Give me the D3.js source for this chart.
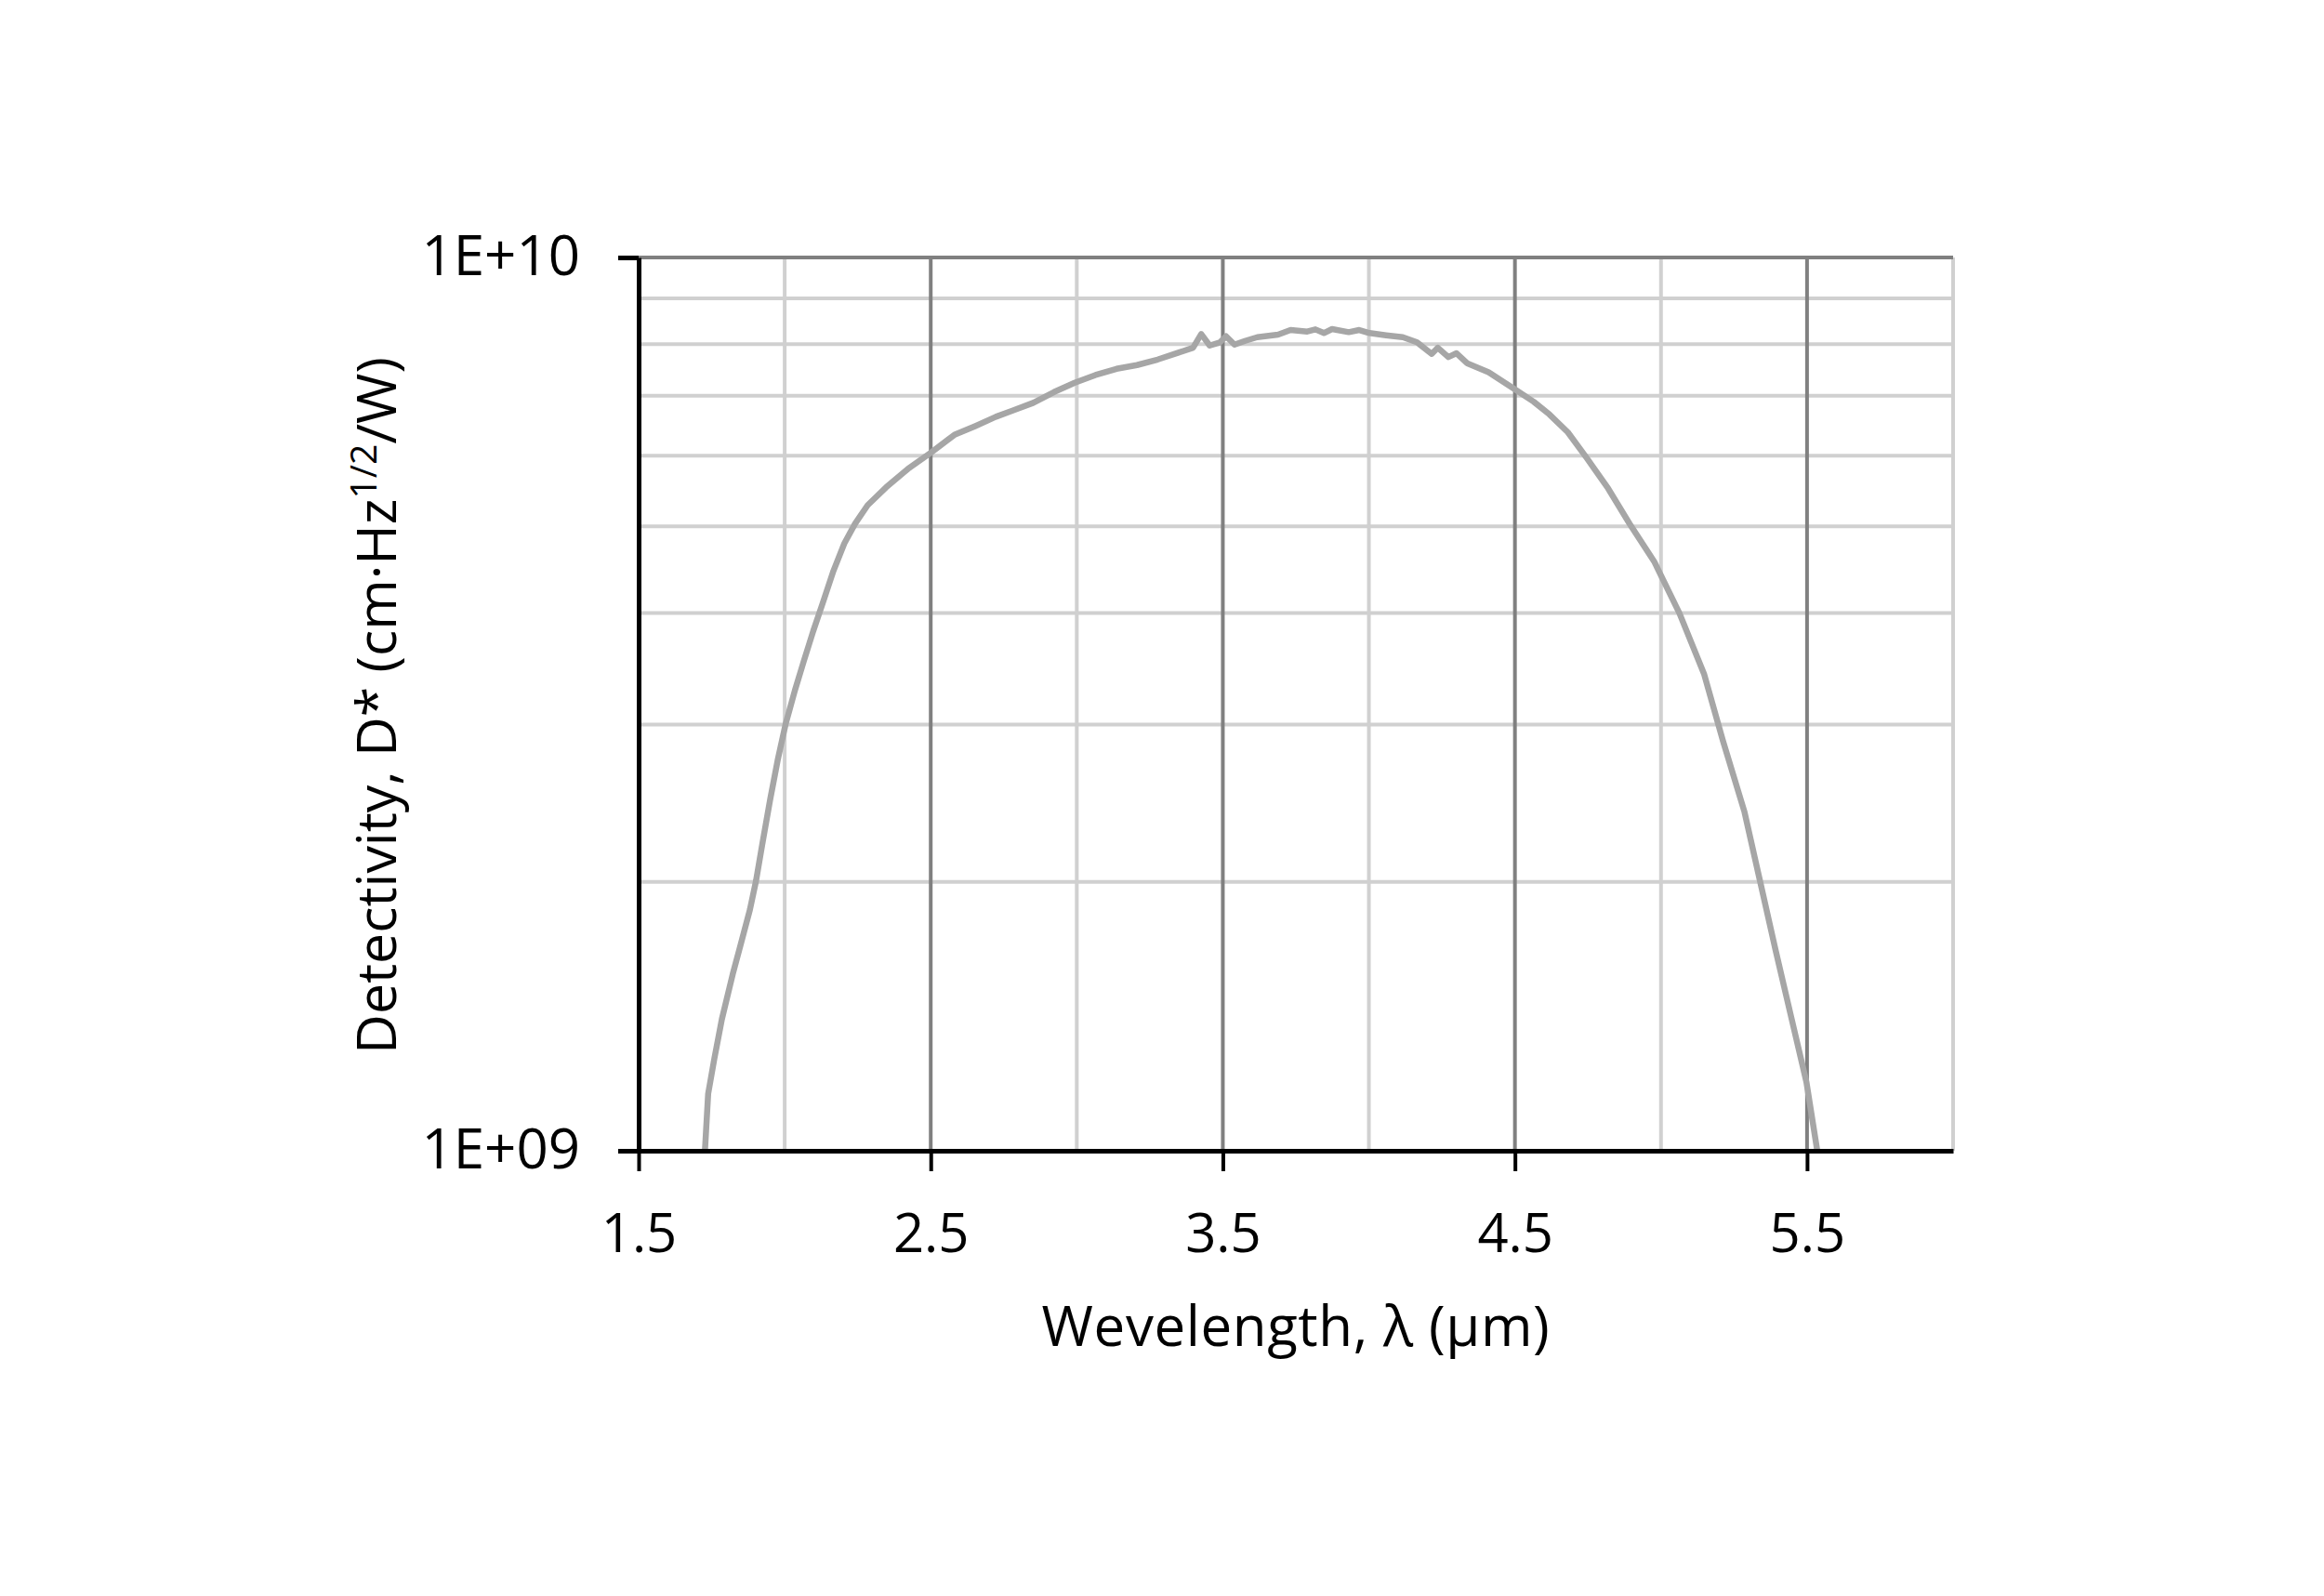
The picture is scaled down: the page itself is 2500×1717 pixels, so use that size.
<!DOCTYPE html>
<html>
<head>
<meta charset="utf-8">
<script src="https://cdn.jsdelivr.net/npm/d3@7"></script>
<style>
  html, body { margin: 0; padding: 0; background: #ffffff; }
  svg { display: block; }
  text { font-family: "Open Sans", "Noto Sans", sans-serif; fill: #000; }
</style>
</head>
<body>
<svg id="chart" width="2500" height="1717"></svg>
<script>
// ---- data ----
const wavelength = [
  1.727, 1.738, 1.759, 1.785, 1.822, 1.854, 1.881, 1.902, 1.923, 1.950,
  1.976, 2.003, 2.035, 2.066, 2.098, 2.130, 2.167, 2.204, 2.241, 2.284,
  2.347, 2.422, 2.501, 2.581, 2.652, 2.723, 2.780, 2.851, 2.922, 2.993,
  3.064, 3.136, 3.206, 3.277, 3.348, 3.398, 3.426, 3.455, 3.490, 3.511,
  3.540, 3.576, 3.618, 3.689, 3.732, 3.789, 3.817, 3.846, 3.874, 3.931,
  3.967, 4.002, 4.059, 4.116, 4.165, 4.215, 4.236, 4.272, 4.300, 4.336,
  4.410, 4.503, 4.564, 4.618, 4.681, 4.745, 4.819, 4.893, 4.978, 5.063,
  5.148, 5.212, 5.286, 5.339, 5.392, 5.445, 5.498, 5.535
];
const detectivity = [
  1.000e9, 1.158e9, 1.267e9, 1.404e9, 1.576e9, 1.724e9, 1.862e9, 2.006e9, 2.201e9, 2.470e9,
  2.737e9, 3.002e9, 3.276e9, 3.538e9, 3.820e9, 4.101e9, 4.459e9, 4.783e9, 5.035e9, 5.281e9,
  5.529e9, 5.799e9, 6.049e9, 6.330e9, 6.475e9, 6.632e9, 6.738e9, 6.875e9, 7.068e9, 7.240e9,
  7.386e9, 7.505e9, 7.578e9, 7.687e9, 7.825e9, 7.925e9, 8.209e9, 7.969e9, 8.035e9, 8.162e9,
  7.989e9, 8.065e9, 8.143e9, 8.196e9, 8.295e9, 8.262e9, 8.308e9, 8.230e9, 8.316e9, 8.249e9,
  8.295e9, 8.230e9, 8.183e9, 8.143e9, 8.035e9, 7.800e9, 7.925e9, 7.737e9, 7.812e9, 7.615e9,
  7.440e9, 7.107e9, 6.896e9, 6.673e9, 6.373e9, 5.969e9, 5.514e9, 5.030e9, 4.559e9, 3.998e9,
  3.414e9, 2.877e9, 2.394e9, 2.005e9, 1.679e9, 1.415e9, 1.193e9, 1.000e9
];
const xTickValues = [1.5, 2.5, 3.5, 4.5, 5.5];
const xTickLabels = ["1.5", "2.5", "3.5", "4.5", "5.5"];
const xMinorGrid = [2.0, 3.0, 4.0, 5.0, 6.0];
const yTickValues = [1e9, 1e10];
const yTickLabels = ["1E+09", "1E+10"];
const yMinorGrid = [2e9, 3e9, 4e9, 5e9, 6e9, 7e9, 8e9, 9e9];

// ---- layout ----
const svg = d3.select("#chart");
const x = d3.scaleLinear().domain([1.5, 6.0]).range([687, 2101]);
const y = d3.scaleLog().domain([1e9, 1e10]).range([1238, 277]);

const lightGrid = "#d0d0d0";
const darkGrid = "#808080";

// light horizontal gridlines
svg.append("g").selectAll("line").data(yMinorGrid).join("line")
  .attr("x1", x(1.5)).attr("x2", x(6.0))
  .attr("y1", d => y(d)).attr("y2", d => y(d))
  .attr("stroke", lightGrid).attr("stroke-width", 4);

// light vertical gridlines
svg.append("g").selectAll("line").data(xMinorGrid).join("line")
  .attr("x1", d => x(d)).attr("x2", d => x(d))
  .attr("y1", y(1e10)).attr("y2", y(1e9))
  .attr("stroke", lightGrid).attr("stroke-width", 4);

// dark vertical gridlines
svg.append("g").selectAll("line").data(xTickValues.slice(1)).join("line")
  .attr("x1", d => x(d)).attr("x2", d => x(d))
  .attr("y1", y(1e10)).attr("y2", y(1e9))
  .attr("stroke", darkGrid).attr("stroke-width", 4);

// dark top gridline (1E+10)
svg.append("line")
  .attr("x1", x(1.5)).attr("x2", x(6.0))
  .attr("y1", y(1e10)).attr("y2", y(1e10))
  .attr("stroke", darkGrid).attr("stroke-width", 4);

// curve
const data = wavelength.map((w, i) => ({ w, d: detectivity[i] }));
svg.append("path")
  .datum(data)
  .attr("d", d3.line().x(d => x(d.w)).y(d => y(d.d)).curve(d3.curveLinear))
  .attr("fill", "none")
  .attr("stroke", "#a6a6a6")
  .attr("stroke-width", 6.5)
  .attr("stroke-linejoin", "round")
  .attr("stroke-linecap", "butt");

// x axis
const xAxis = d3.axisBottom(x)
  .tickValues(xTickValues)
  .tickFormat((d, i) => xTickLabels[i])
  .tickSize(22)
  .tickSizeOuter(0);
const gx = svg.append("g").attr("transform", `translate(0,${y(1e9)})`).call(xAxis);
gx.select(".domain").attr("stroke", "#000").attr("stroke-width", 5);
gx.selectAll(".tick line").attr("stroke", "#000").attr("stroke-width", 4);
gx.selectAll(".tick text")
  .attr("y", 109).attr("dy", 0)
  .style("font-size", "58px")
  .style("font-family", "'Open Sans', sans-serif");

// y axis
const yAxis = d3.axisLeft(y)
  .tickValues(yTickValues)
  .tickFormat((d, i) => yTickLabels[i])
  .tickSize(22)
  .tickSizeOuter(0);
const gy = svg.append("g").attr("transform", `translate(${x(1.5)},0)`).call(yAxis);
gy.select(".domain").attr("stroke", "#000").attr("stroke-width", 5);
gy.selectAll(".tick line").attr("stroke", "#000").attr("stroke-width", 5);
gy.selectAll(".tick text")
  .attr("x", -63).attr("dy", "0.3em")
  .style("font-size", "60px")
  .style("font-family", "'Open Sans', sans-serif");

// x axis title
svg.append("text")
  .attr("x", (x(1.5) + x(6.0)) / 2).attr("y", 1448)
  .attr("text-anchor", "middle")
  .style("font-size", "60px")
  .style("letter-spacing", "0.6px")
  .text("Wevelength, λ (µm)");

// y axis title
const yt = svg.append("text")
  .attr("transform", "translate(426,759) rotate(-90)")
  .attr("text-anchor", "middle")
  .style("font-size", "59px");
yt.append("tspan").text("Detectivity, D* (cm·Hz");
yt.append("tspan").attr("dy", "-21").style("font-size", "39px").text("1/2");
yt.append("tspan").attr("dy", "21").text("/W)");
</script>
</body>
</html>
